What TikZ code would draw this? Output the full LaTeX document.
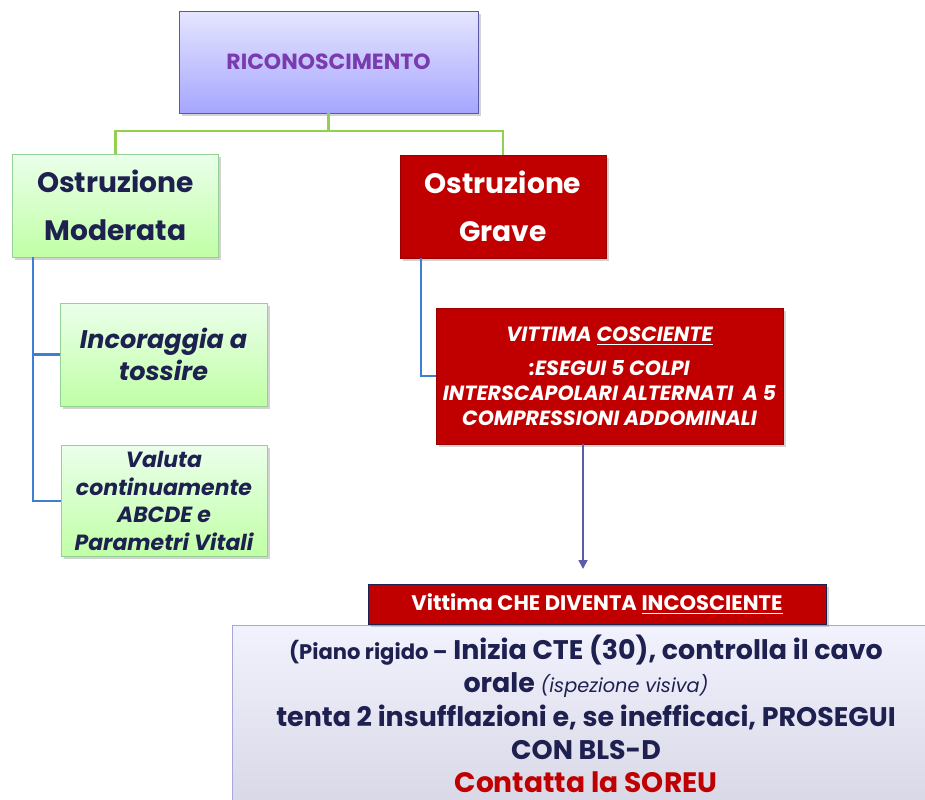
\documentclass[tikz,border=0pt]{standalone}
\usepackage{fontspec}
\setmainfont{Poppins}
\usetikzlibrary{arrows.meta, positioning, shadows}

\definecolor{darkred}{HTML}{C00000}
\definecolor{navy}{HTML}{1E2050}
\definecolor{linkgreen}{HTML}{92D050}
\definecolor{branchblue}{HTML}{3C80D6}
\definecolor{arrowblue}{HTML}{5C5CAA}
\definecolor{purpletext}{HTML}{7A3BB0}

\begin{document}
\begin{tikzpicture}[x=0.02cm, y=-0.02cm]
		\tikzstyle{Shadow} = [drop shadow={shadow xshift=1.5pt, shadow yshift=-1.5pt, opacity=0.35}]
		\tikzstyle{TopBox} = [rectangle, Shadow, minimum width=5.98cm, minimum height=2.04cm, text centered, draw=gray!70!blue, top color=blue!10, bottom color=blue!35!white, text=purpletext, font=\bfseries\fontsize{12.5}{14}\selectfont]
		\tikzstyle{GreenBox} = [rectangle, Shadow, minimum width=4.12cm, minimum height=2.06cm, align=center, draw=green!40!gray!60, top color=green!8!white, bottom color=green!70!yellow!35!white, text=navy]
		\tikzstyle{RedBox} = [rectangle, Shadow, align=center, draw=darkred!80!black, fill=darkred, text=white]
		\tikzstyle{Link} = [linkgreen, line width=1.3pt]
		\tikzstyle{Branch} = [branchblue, line width=1.3pt]
		\tikzstyle{arrow} = [arrowblue, line width=1pt, -{Triangle[length=5pt, width=5pt]}]

		\clip (0,0) rectangle (925,800);
		\useasboundingbox (0,0) rectangle (925,800);

		\node (top) [TopBox] at (328.5,62) {RICONOSCIMENTO};
		\node (moderata) [GreenBox, font=\bfseries\fontsize{16}{27}\selectfont] at (115.5,205.5) {Ostruzione\\Moderata};
		\node (grave) [RedBox, minimum width=4.12cm, minimum height=2.06cm, font=\bfseries\fontsize{16}{27}\selectfont] at (503,206.5) {Ostruzione\\Grave};
		\node (incoraggia) [GreenBox, minimum width=4.14cm, font=\bfseries\itshape\fontsize{14.5}{18}\selectfont] at (163.5,354.5) {Incoraggia a\\tossire};
		\node (valuta) [GreenBox, minimum height=2.08cm, font=\bfseries\itshape\fontsize{12.5}{15.8}\selectfont] at (164,501) {Valuta\\continuamente\\ABCDE e\\Parametri Vitali};
		\node (cosciente) [RedBox, minimum width=6.94cm, minimum height=2.72cm, inner xsep=2pt, font=\bfseries\itshape\fontsize{11.7}{14.2}\selectfont] at (609.5,376) {VITTIMA \underline{COSCIENTE}\\[5pt] :ESEGUI 5 COLPI\\INTERSCAPOLARI ALTERNATI \ A 5\\COMPRESSIONI ADDOMINALI};

		% bottom box runs off the page
		\node (incosciente) [rectangle, Shadow, minimum width=14.16cm, minimum height=3.56cm, align=center, draw=gray!60!blue!50, top color=blue!5!white, bottom color=blue!22!gray!25!white, text=navy, font=\bfseries\fontsize{15.3}{19}\selectfont] at (586,714) {{\fontsize{12}{19}\selectfont(Piano rigido --} Inizia CTE (30), controlla il cavo\\orale {\mdseries\itshape\fontsize{11}{19}\selectfont(ispezione visiva)}\\tenta 2 insufflazioni e, se inefficaci, PROSEGUI\\CON BLS-D\\{\color{darkred}\fontsize{16}{19}\selectfont Contatta la SOREU}};
		\node (banner) [RedBox, draw=navy, minimum width=9.16cm, minimum height=0.8cm, font=\bfseries\fontsize{12}{14}\selectfont, above = 0pt of incosciente.north, xshift=0.22cm] {Vittima CHE DIVENTA \underline{INCOSCIENTE}};

		\draw[Link] (top.south) -- ++(0,18) coordinate (j) -| (moderata.north);
		\draw[Link] (j) -| (grave.north);
		\draw[Branch] ([xshift=0.42cm]moderata.south west) |- (incoraggia.west);
		\draw[Branch] ([xshift=0.42cm]moderata.south west) |- (valuta.west);
		\draw[Branch] ([xshift=0.42cm]grave.south west) |- (cosciente.west);
		\draw[arrow, shorten >=0.3cm] ([xshift=-0.53cm]cosciente.south) -- ([xshift=-0.53cm]cosciente.south |- banner.north);
\end{tikzpicture}
\end{document}
